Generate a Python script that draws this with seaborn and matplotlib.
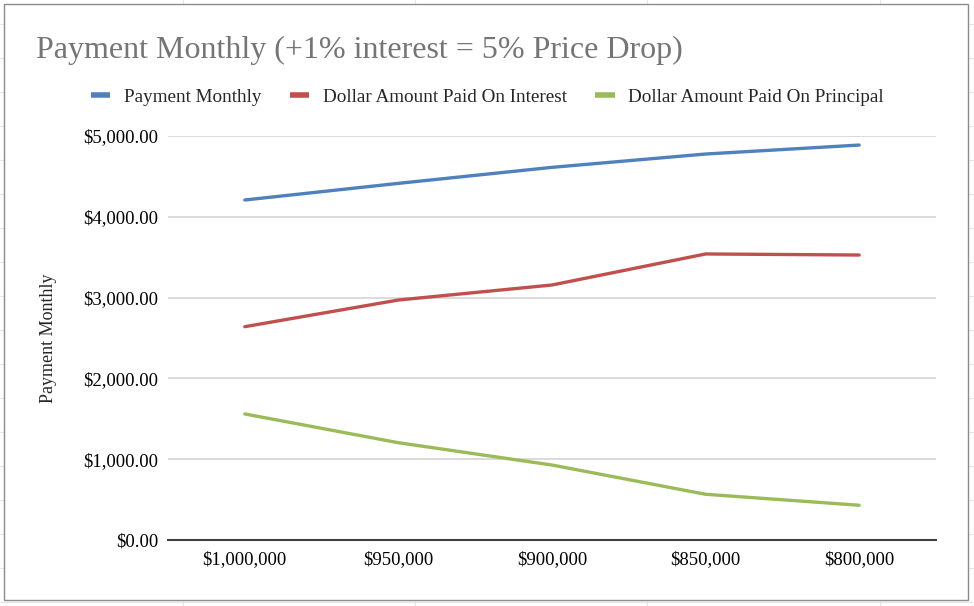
import pandas as pd
import matplotlib.pyplot as plt
import seaborn as sns
from matplotlib.lines import Line2D
from matplotlib.patches import Rectangle

# values
prices = ['$1,000,000', '$950,000', '$900,000', '$850,000', '$800,000']
payment_monthly = [4208, 4414, 4612, 4777, 4888]
paid_interest = [2640, 2970, 3156, 3540, 3527]
paid_principal = [1560, 1204, 928, 566, 430]
series_names = ['Payment Monthly', 'Dollar Amount Paid On Interest',
                'Dollar Amount Paid On Principal']
colors = ['#4F81BD', '#C0504D', '#9BBB59']

df = pd.DataFrame({
    'price': prices * 3,
    'value': payment_monthly + paid_interest + paid_principal,
    'series': [s for s in series_names for _ in prices],
})

sns.set_theme(style='white')
plt.rcParams['font.family'] = ['Liberation Serif', 'DejaVu Serif']

fig = plt.figure(figsize=(9.74, 6.06), dpi=100)
fig.patch.set_facecolor('white')

# faint spreadsheet cells behind the chart
for x in [183, 415, 647, 880]:
    fig.add_artist(Line2D([x / 974, x / 974], [1, 0], color='#e4e4e4', lw=0.8, zorder=0))
for y in range(24, 606, 34):
    fig.add_artist(Line2D([0, 1], [1 - y / 606, 1 - y / 606], color='#e4e4e4', lw=0.8, zorder=0))
fig.add_artist(Rectangle((4 / 974, 1 - 600 / 606), 964 / 974, 596 / 606,
                         facecolor='white', edgecolor='#8c8c8c', lw=1.0, zorder=1))

ax = fig.add_axes([168 / 974, 1 - 540 / 606, 768 / 974, 404 / 606], zorder=2)
ax.set_facecolor('white')

sns.lineplot(data=df, x='price', y='value', hue='series', hue_order=series_names,
             palette=colors, sort=False, linewidth=2.4, ax=ax, legend=False)

ax.set_xlim(-0.5, len(prices) - 0.5)
ax.set_ylim(0, 5000)
ax.set_yticks([0, 1000, 2000, 3000, 4000, 5000])
ax.set_yticklabels([f'${v:,.2f}' for v in [0, 1000, 2000, 3000, 4000, 5000]])
ax.yaxis.grid(True, color='#d4d4d4', lw=1.2)
ax.set_axisbelow(True)
for s in ['top', 'right', 'left']:
    ax.spines[s].set_visible(False)
ax.spines['bottom'].set_color('#404040')
ax.spines['bottom'].set_linewidth(1.5)
ax.tick_params(axis='both', length=0, labelsize=13.5, colors='black')
ax.tick_params(axis='y', pad=7)
ax.tick_params(axis='x', pad=8)
ax.set_xlabel('')
ax.set_ylabel('Payment Monthly', fontsize=13, labelpad=19)

fig.text(36 / 974, 1 - 50 / 606, 'Payment Monthly (+1% interest = 5% Price Drop)',
         fontsize=23, color='#757575', va='center', ha='left', zorder=3)

handles = [Line2D([0], [0], color=c, lw=4, solid_capstyle='butt') for c in colors]
leg = fig.legend(handles, series_names, loc='center left', bbox_to_anchor=(74 / 974, 1 - 97 / 606),
                 ncol=3, frameon=False, fontsize=13.8, handlelength=1.0, handletextpad=0.7,
                 columnspacing=1.5)
leg.set_zorder(3)

fig.savefig('out.png', dpi=100)
